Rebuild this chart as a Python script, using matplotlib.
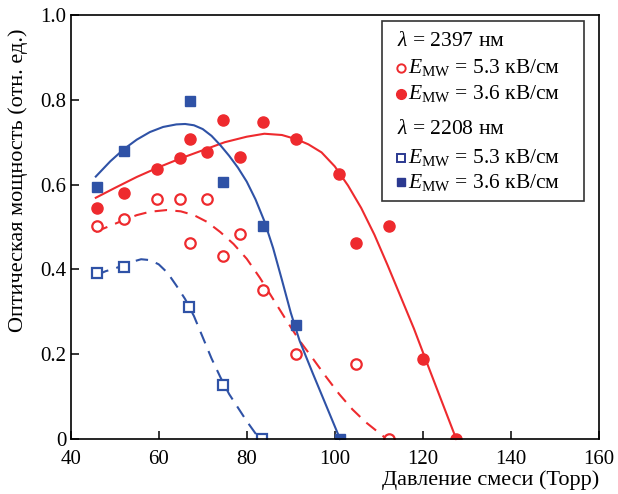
import matplotlib
matplotlib.use("Agg")
import matplotlib.pyplot as plt
from matplotlib.patches import Rectangle

plt.rcParams['font.family'] = ['Liberation Serif', 'DejaVu Serif']
plt.rcParams['mathtext.fontset'] = 'custom'
plt.rcParams['mathtext.rm'] = 'Liberation Serif'
plt.rcParams['mathtext.it'] = 'Liberation Serif:italic'

# ---- data: lambda = 2397 nm ----
red_open_x = [45.9, 52.0, 59.5, 64.8, 70.9, 67.1, 74.5, 78.5, 83.6, 91.2, 104.8, 112.4]
red_open_y = [0.502, 0.520, 0.565, 0.565, 0.565, 0.463, 0.432, 0.483, 0.351, 0.200, 0.178, 0.0]
red_fill_x = [45.9, 52.0, 59.5, 64.8, 67.1, 70.9, 74.5, 78.5, 83.6, 91.2, 101.0, 104.8, 112.4, 120.0, 127.6]
red_fill_y = [0.544, 0.581, 0.636, 0.663, 0.707, 0.677, 0.752, 0.664, 0.748, 0.707, 0.625, 0.463, 0.503, 0.188, 0.0]
# ---- data: lambda = 2208 nm ----
blue_open_x = [45.9, 52.0, 66.9, 74.5, 83.5]
blue_open_y = [0.391, 0.406, 0.311, 0.128, 0.0]
blue_fill_x = [45.9, 52.0, 67.1, 74.5, 83.6, 91.2, 101.2]
blue_fill_y = [0.595, 0.680, 0.798, 0.605, 0.503, 0.269, 0.0]

# ---- fitted curves ----
red_fit_x = [45.7, 50, 55, 60, 65, 70, 75, 80, 84, 88, 91.3, 94, 97, 100, 103, 106, 109, 112, 115, 118, 121, 124, 127.6]
red_fit_y = [0.569, 0.592, 0.618, 0.641, 0.662, 0.681, 0.700, 0.713, 0.720, 0.717, 0.707, 0.695, 0.676, 0.643,
             0.598, 0.545, 0.482, 0.410, 0.335, 0.260, 0.178, 0.097, 0.0]
red_dash_x = [45.7, 49, 52, 55, 58, 61.8, 65, 68, 71, 74, 77, 80, 83, 86, 89, 92, 95, 98, 101, 104, 107, 110, 111.8]
red_dash_y = [0.489, 0.503, 0.516, 0.528, 0.536, 0.540, 0.537, 0.528, 0.512, 0.488, 0.460, 0.425, 0.380, 0.330,
              0.280, 0.232, 0.190, 0.147, 0.106, 0.070, 0.040, 0.015, 0.0]
blue_fit_x = [45.7, 49, 52, 55, 58, 61, 64, 66, 68, 70, 72, 74, 76, 78, 80, 82, 84, 86, 88, 90, 92, 95, 98, 101.2]
blue_fit_y = [0.619, 0.655, 0.683, 0.706, 0.724, 0.736, 0.742, 0.743, 0.740, 0.731, 0.715, 0.693, 0.668, 0.640,
              0.607, 0.565, 0.514, 0.450, 0.375, 0.298, 0.232, 0.155, 0.080, 0.0]
blue_dash_x = [45.9, 48, 50, 52, 54, 56, 58, 60, 62, 64, 66, 68, 70, 72, 74, 76, 78, 80, 82, 83.0]
blue_dash_y = [0.387, 0.396, 0.402, 0.410, 0.418, 0.424, 0.422, 0.412, 0.392, 0.362, 0.330, 0.290, 0.240, 0.190,
               0.146, 0.106, 0.074, 0.042, 0.013, 0.0]

x_ticks = [40, 60, 80, 100, 120, 140, 160]
y_ticks = [0, 0.2, 0.4, 0.6, 0.8, 1.0]
y_ticklabels = ['0', '0.2', '0.4', '0.6', '0.8', '1.0']

RED = '#ee2a2e'
BLUE = '#2f52a6'

fig = plt.figure(figsize=(6.18, 4.94), dpi=100)
ax = fig.add_axes([0.1144, 0.1113, 0.8546, 0.8583])

ax.plot(red_fit_x, red_fit_y, color=RED, lw=1.5, clip_on=False)
ax.plot(red_dash_x, red_dash_y, color=RED, lw=1.5, ls=(0, (6, 4)), clip_on=False)
ax.plot(blue_fit_x, blue_fit_y, color=BLUE, lw=1.5, clip_on=False)
ax.plot(blue_dash_x, blue_dash_y, color=BLUE, lw=1.5, ls=(0, (6, 4)), clip_on=False)

ax.plot(red_open_x, red_open_y, 'o', ms=7.5, mfc='white', mec=RED, mew=1.6, ls='none')
ax.plot(red_fill_x, red_fill_y, 'o', ms=8, mfc=RED, mec=RED, ls='none')
ax.plot(blue_open_x, blue_open_y, 's', ms=6.5, mfc='white', mec=BLUE, mew=1.6, ls='none')
ax.plot(blue_fill_x, blue_fill_y, 's', ms=7, mfc=BLUE, mec=BLUE, ls='none')

ax.set_xlim(40, 160)
ax.set_ylim(0, 1.0)
ax.set_xticks(x_ticks)
ax.set_yticks(y_ticks)
ax.set_yticklabels(y_ticklabels)
ax.tick_params(direction='in', length=6, width=1.1, labelsize=15)
ax.tick_params(axis='x', pad=8)
ax.tick_params(axis='y', pad=3)
for s in ax.spines.values():
    s.set_linewidth(1.2)

ax.set_xlabel('Давление смеси (Торр)', fontsize=16, loc='right', labelpad=1)
fig.text(0.03, 1 - 180 / 494, 'Оптическая мощность (отн. ед.)', rotation=90,
         ha='center', va='center', fontsize=16)

# legend box
ax.add_patch(Rectangle((0.589, 0.561), 0.383, 0.425, transform=ax.transAxes,
                       fill=True, facecolor='white', edgecolor='#333333', lw=1.2, zorder=5))

def fy(py):
    return 1 - py / 494

fs = 15.5
fig.text(397 / 618, fy(42), r'$\lambda$ = 2397 нм', fontsize=fs, va='center', zorder=6)
fig.text(408 / 618, fy(68), r'$E_{\mathrm{MW}}$ = 5.3 кВ/см', fontsize=fs, va='center', zorder=6)
fig.text(408 / 618, fy(94), r'$E_{\mathrm{MW}}$ = 3.6 кВ/см', fontsize=fs, va='center', zorder=6)
fig.text(397 / 618, fy(130), r'$\lambda$ = 2208 нм', fontsize=fs, va='center', zorder=6)
fig.text(408 / 618, fy(158), r'$E_{\mathrm{MW}}$ = 5.3 кВ/см', fontsize=fs, va='center', zorder=6)
fig.text(408 / 618, fy(182), r'$E_{\mathrm{MW}}$ = 3.6 кВ/см', fontsize=fs, va='center', zorder=6)

lx = 401 / 618
fig.lines.append(plt.Line2D([lx], [fy(68)], marker='o', ms=6, mfc='white', mec=RED, mew=1.4, transform=fig.transFigure))
fig.lines.append(plt.Line2D([lx], [fy(94)], marker='o', ms=7, mfc=RED, mec=RED, transform=fig.transFigure))
fig.lines.append(plt.Line2D([lx], [fy(158)], marker='s', ms=5.5, mfc='white', mec='#2b3990', mew=1.4, transform=fig.transFigure))
fig.lines.append(plt.Line2D([lx], [fy(182)], marker='s', ms=6, mfc='#2b3990', mec='#2b3990', transform=fig.transFigure))

fig.savefig('out.png', dpi=100)
